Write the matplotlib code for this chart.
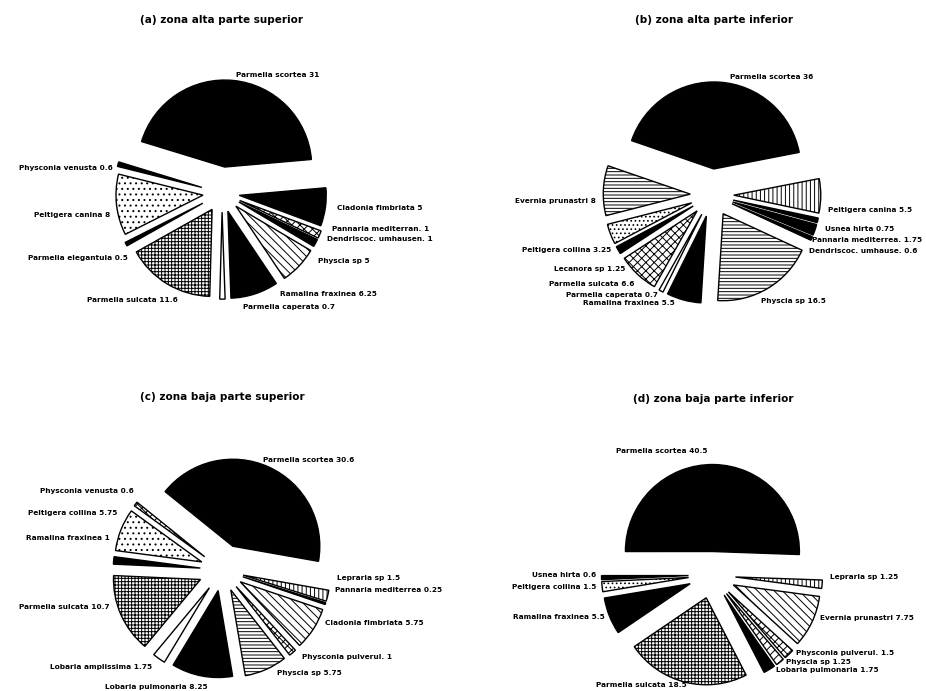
import matplotlib
matplotlib.use("Agg")
import matplotlib.pyplot as plt

plt.rcParams['font.family'] = ['DejaVu Sans']
plt.rcParams['hatch.linewidth'] = 0.7

# ---------------- data ----------------
A_title = "(a) zona alta parte superior"
A_names = ["Parmelia scortea", "Physconia venusta", "Peltigera canina", "Parmelia elegantula",
           "Parmelia sulcata", "Parmelia caperata", "Ramalina fraxinea", "Physcia sp",
           "Dendriscoc. umhausen.", "Pannaria mediterran.", "Cladonia fimbriata"]
A_values = [31, 0.6, 8, 0.5, 11.6, 0.7, 6.25, 5, 1, 1, 5]

B_title = "(b) zona alta parte inferior"
B_names = ["Parmelia scortea", "Evernia prunastri", "Peltigera collina", "Lecanora sp",
           "Parmelia sulcata", "Parmelia caperata", "Ramalina fraxinea", "Physcia sp",
           "Dendriscoc. umhause.", "Pannaria mediterrea.", "Usnea hirta", "Peltigera canina"]
B_values = [36, 8, 3.25, 1.25, 6.6, 0.7, 5.5, 16.5, 0.6, 1.75, 0.75, 5.5]

C_title = "(c) zona baja parte superior"
C_names = ["Parmelia scortea", "Physconia venusta", "Peltigera collina", "Ramalina fraxinea",
           "Parmelia sulcata", "Lobaria amplissima", "Lobaria pulmonaria", "Physcia sp",
           "Physconia pulverul.", "Cladonia fimbriata", "Pannaria mediterrea", "Lepraria sp"]
C_values = [30.6, 0.6, 5.75, 1, 10.7, 1.75, 8.25, 5.75, 1, 5.75, 0.25, 1.5]

D_title = "(d) zona baja parte inferior"
D_names = ["Parmelia scortea", "Usnea hirta", "Peltigera collina", "Ramalina fraxinea",
           "Parmelia sulcata", "Lobaria pulmonaria", "Physcia sp", "Physconia pulverul.",
           "Evernia prunastri", "Lepraria sp"]
D_values = [40.5, 0.6, 1.5, 5.5, 18.5, 1.75, 1.25, 1.5, 7.75, 1.25]

# ---------------- styles / layout ----------------
K, Wt = "black", "white"
A_style = dict(
    fills=[K, K, Wt, K, Wt, Wt, K, Wt, K, Wt, K],
    hatches=['', '', '...', '', '+++++', '', '', '\\\\\\\\', '', 'xxxx', ''],
    explode=[0.3, 0.24, 0.22, 0.25, 0.22, 0.22, 0.22, 0.22, 0.22, 0.22, 0.2],
    start=5, center=(222, 193), box=(0, 0, 463, 345), title_xy=(221, 20),
    labels=[(0.16, 1.36, 'left'), (-1.26, 0.29, 'right'), (-1.29, -0.25, 'right'),
            (-1.08, -0.75, 'right'), (-0.51, -1.23, 'right'), (0.24, -1.31, 'left'),
            (0.67, -1.16, 'left'), (1.10, -0.78, 'left'), (1.21, -0.53, 'left'),
            (1.26, -0.41, 'left'), (1.32, -0.17, 'left')])
B_style = dict(
    fills=[K, Wt, Wt, K, Wt, Wt, K, Wt, K, K, K, Wt],
    hatches=['', '-----', '....', '', 'xxxx', '', '', '-----', '', '', '', '||||'],
    explode=[0.3, 0.25, 0.25, 0.25, 0.25, 0.25, 0.25, 0.25, 0.25, 0.25, 0.25, 0.25],
    start=11, center=(712, 195), box=(463, 0, 926, 345), title_xy=(714, 20),
    labels=[(0.21, 1.36, 'left'), (-1.33, -0.07, 'right'), (-1.16, -0.63, 'right'),
            (-0.99, -0.85, 'right'), (-0.89, -1.02, 'right'), (-0.62, -1.15, 'right'),
            (-0.43, -1.24, 'right'), (0.56, -1.22, 'left'), (1.12, -0.64, 'left'),
            (1.15, -0.52, 'left'), (1.30, -0.39, 'left'), (1.33, -0.17, 'left')])
C_style = dict(
    fills=[K, Wt, Wt, K, Wt, Wt, K, Wt, Wt, Wt, K, Wt],
    hatches=['', 'xxxx', '...', '', '+++++', '', '', '-----', 'xxxx', '\\\\\\\\', '', '||||'],
    explode=[0.3, 0.25, 0.25, 0.25, 0.27, 0.25, 0.24, 0.25, 0.25, 0.25, 0.25, 0.25],
    start=-10, center=(222, 570), box=(0, 345, 463, 691), title_xy=(222, 397),
    labels=[(0.47, 1.26, 'left'), (-1.02, 0.91, 'right'), (-1.20, 0.66, 'right'),
            (-1.29, 0.37, 'right'), (-1.29, -0.43, 'right'), (-0.80, -1.11, 'right'),
            (-0.16, -1.34, 'right'), (0.63, -1.18, 'left'), (0.92, -1.00, 'left'),
            (1.18, -0.61, 'left'), (1.30, -0.23, 'left'), (1.32, -0.09, 'left')])
D_style = dict(
    fills=[K, K, Wt, K, Wt, K, Wt, Wt, Wt, Wt],
    hatches=['', '', '....', '', '+++++', '', '////', 'xxxx', '\\\\\\\\', '||||'],
    explode=[0.27, 0.27, 0.27, 0.27, 0.27, 0.27, 0.27, 0.27, 0.27, 0.27],
    start=-2, center=(712, 575), box=(463, 345, 926, 691), title_xy=(713, 399),
    labels=[(-1.10, 1.43, 'left'), (-1.33, 0.0, 'right'), (-1.33, -0.14, 'right'),
            (-1.23, -0.48, 'right'), (-1.33, -1.26, 'left'), (0.74, -1.09, 'left'),
            (0.85, -1.00, 'left'), (0.97, -0.90, 'left'), (1.24, -0.49, 'left'),
            (1.36, -0.02, 'left')])

W, H = 926, 691
R = 87.0
fig = plt.figure(figsize=(W / 100, H / 100), dpi=100)


def draw(names, values, title, st):
    x0, y0, x1, y1 = st['box']
    cx, cy = st['center']
    ax = fig.add_axes([x0 / W, 1 - y1 / H, (x1 - x0) / W, (y1 - y0) / H])
    ax.pie(values, explode=st['explode'], startangle=st['start'], colors=st['fills'],
           hatch=st['hatches'], counterclock=True,
           wedgeprops=dict(edgecolor='black', linewidth=1.0))
    ax.set_aspect('auto')
    ax.set_xlim((x0 - cx) / R, (x1 - cx) / R)
    ax.set_ylim((cy - y1) / R, (cy - y0) / R)
    ax.axis('off')
    for name, v, (dx, dy, ha) in zip(names, values, st['labels']):
        ax.text(dx, dy, f"{name} {v:g}", ha=ha, va='center', fontsize=5.3,
                fontweight='bold', clip_on=False)
    tx, ty = st['title_xy']
    fig.text(tx / W, 1 - ty / H, title, ha='center', va='center', fontsize=7.5,
             fontweight='bold')


draw(A_names, A_values, A_title, A_style)
draw(B_names, B_values, B_title, B_style)
draw(C_names, C_values, C_title, C_style)
draw(D_names, D_values, D_title, D_style)

fig.savefig("out.png", dpi=100, facecolor='white')
